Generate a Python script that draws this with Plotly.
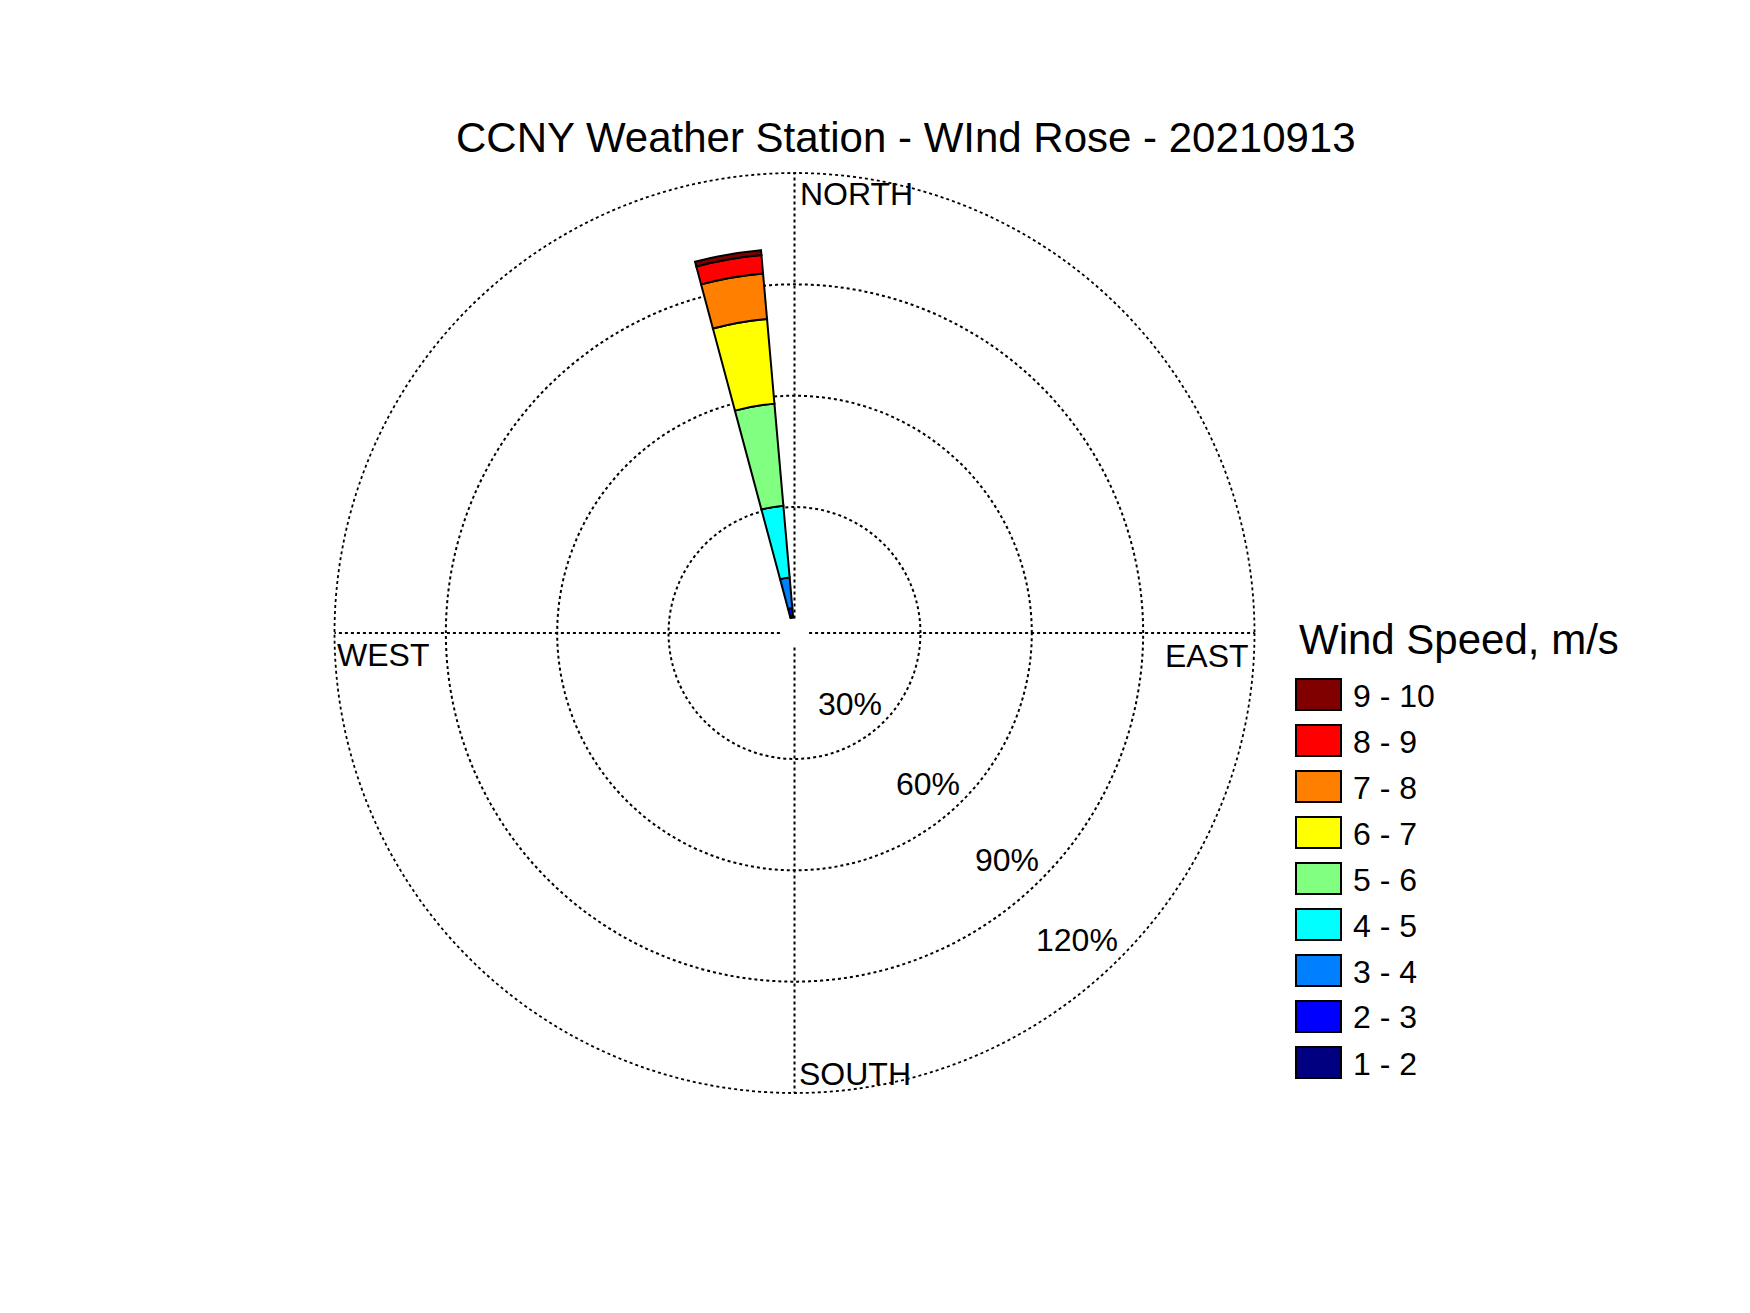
import plotly.graph_objects as go

# ---- data ----
speed_bins = ["1 - 2", "2 - 3", "3 - 4", "4 - 5", "5 - 6", "6 - 7", "7 - 8", "8 - 9", "9 - 10"]
bin_colors = ["#000080", "#0000FF", "#0080FF", "#00FFFF", "#80FF80",
              "#FFFF00", "#FF8000", "#FF0000", "#800000"]
direction_deg = [350]
direction_width = 10
# percentage of observations per speed bin for the single direction bin
freq_pct = [0.6, 2.2, 8.3, 19.4, 27.6, 22.9, 12.3, 5.0, 1.3]
ring_ticks = [30, 60, 90, 120]
compass_labels = ["NORTH", "EAST", "SOUTH", "WEST"]
title_text = "CCNY Weather Station - WInd Rose - 20210913"
legend_title = "Wind Speed, m/s"

W, H = 1750, 1313
OFF = 8  # page body margin
FONT = "Liberation Sans, Arial, sans-serif"

# polar geometry (pixels, in page coordinates)
cx, cy, R = 794.5, 633.0, 460.0
hole_px = 14.6

def px(x):
    return (x - OFF) / W

def py(y):
    return 1 - (y - OFF) / H

fig = go.Figure()
for name, val, col in zip(speed_bins, freq_pct, bin_colors):
    fig.add_trace(go.Barpolar(
        r=[val], theta=direction_deg, width=[direction_width],
        name=name, marker=dict(color=col, line=dict(color="black", width=2)),
        showlegend=False,
    ))

fig.update_layout(
    width=W, height=H,
    margin=dict(l=0, r=0, t=0, b=0),
    paper_bgcolor="white", plot_bgcolor="white",
    font=dict(family=FONT, color="black"),
    polar=dict(
        domain=dict(x=[px(cx - R), px(cx + R)], y=[py(cy + R), py(cy - R)]),
        bgcolor="white",
        hole=hole_px / R,
        barmode="stack",
        radialaxis=dict(range=[0, ring_ticks[-1]], tickvals=ring_ticks,
                        showticklabels=False, ticks="", showline=False,
                        gridcolor="black", gridwidth=1.8, griddash="dot"),
        angularaxis=dict(rotation=90, direction="clockwise",
                         tickvals=[0, 90, 180, 270], showticklabels=False,
                         ticks="", showline=False,
                         gridcolor="black", gridwidth=1.8, griddash="dot"),
    ),
)

# outer dotted circle
fig.add_shape(type="circle", xref="paper", yref="paper",
              x0=px(cx - R), x1=px(cx + R), y0=py(cy + R), y1=py(cy - R),
              line=dict(color="black", width=1.8, dash="dot"))

ann = []
ann.append(dict(text=title_text, x=px(906), y=py(137), xanchor="center", yanchor="middle",
                font=dict(size=42)))
# compass labels
pos = {"NORTH": (798, 194, "left"), "EAST": (1251, 656, "right"),
       "SOUTH": (797, 1074, "left"), "WEST": (335, 655, "left")}
for lab in compass_labels:
    x, y, a = pos[lab]
    ann.append(dict(text=lab, x=px(x), y=py(y), xanchor=a, yanchor="middle",
                    font=dict(size=32)))
# ring percent labels
pct_pos = [(849.5, 703.5), (928, 783.5), (1006.5, 860), (1077, 939.5)]
for v, (x, y) in zip(ring_ticks, pct_pos):
    ann.append(dict(text=f"{v}%", x=px(x), y=py(y), xanchor="center", yanchor="middle",
                    font=dict(size=32)))

# legend
ann.append(dict(text=legend_title, x=px(1297), y=py(639), xanchor="left", yanchor="middle",
                font=dict(size=42)))
box_x0, box_x1 = 1296, 1341
top0, box_h, step = 679, 31, 46
for i, (name, col) in enumerate(zip(speed_bins[::-1], bin_colors[::-1])):
    y0 = top0 + i * step
    fig.add_shape(type="rect", xref="paper", yref="paper",
                  x0=px(box_x0), x1=px(box_x1), y0=py(y0 + box_h), y1=py(y0),
                  fillcolor=col, line=dict(color="black", width=2))
    ann.append(dict(text=name, x=px(1351), y=py(y0 + box_h / 2 + 1), xanchor="left",
                    yanchor="middle", font=dict(size=32)))

for a in ann:
    a.update(xref="paper", yref="paper", showarrow=False)
fig.update_layout(annotations=ann)

fig.write_html("out.html")
